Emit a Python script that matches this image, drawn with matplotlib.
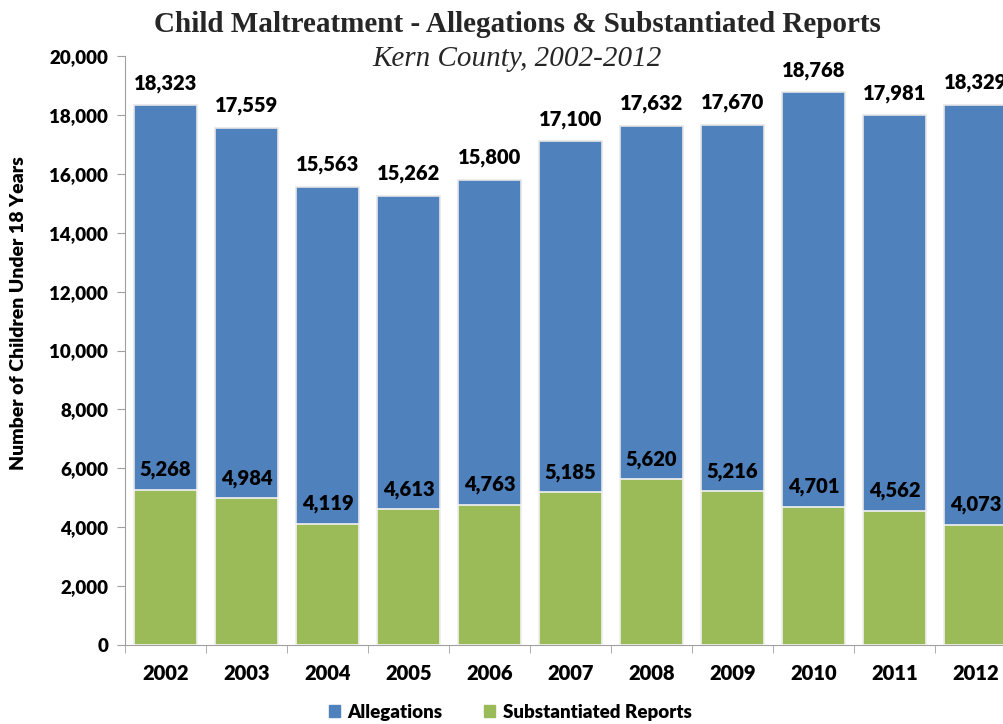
import matplotlib.pyplot as plt
import numpy as np

# data
years = ['2002', '2003', '2004', '2005', '2006', '2007', '2008', '2009', '2010', '2011', '2012']
allegations = [18323, 17559, 15563, 15262, 15800, 17100, 17632, 17670, 18768, 17981, 18329]
substantiated = [5268, 4984, 4119, 4613, 4763, 5185, 5620, 5216, 4701, 4562, 4073]

blue = '#4F81BD'
green = '#9BBB59'
sans = ['Lato', 'DejaVu Sans']
serif = ['Liberation Serif', 'DejaVu Serif']
wt = 'heavy'

fig = plt.figure(figsize=(10.04, 7.24), dpi=100)
ax = fig.add_axes([125 / 1004, 79 / 724, 891 / 1004, 589 / 724])

x = np.arange(len(years))
w = 0.79
ax.bar(x, allegations, width=w, color=blue, edgecolor='#E6E6E6', linewidth=1.2, zorder=2)
ax.bar(x, substantiated, width=w, color=green, edgecolor='#F2F2F2', linewidth=1.2, zorder=3)

for xi, v in zip(x, allegations):
    ax.annotate(f'{v:,}', (xi, v), xytext=(0, 16), textcoords='offset points',
                ha='center', va='center', fontsize=14.5, fontweight=wt, family=sans)
for xi, v in zip(x, substantiated):
    ax.annotate(f'{v:,}', (xi, v), xytext=(0, 14.5), textcoords='offset points',
                ha='center', va='center', fontsize=14.5, fontweight=wt, family=sans, zorder=5)

ax.set_xlim(-0.5, 10.5)
ax.set_ylim(0, 20000)
ax.set_yticks(range(0, 20001, 2000))
ax.set_yticklabels([f'{t:,}' for t in range(0, 20001, 2000)], fontsize=13.5,
                   fontweight=wt, family=sans)
ax.set_xticks(x)
ax.set_xticklabels(years, fontsize=14.5, fontweight=wt, family=sans)
ax.set_xticks(np.arange(-0.5, 10.6, 1), minor=True)
ax.tick_params(axis='x', which='major', length=0, pad=14)
ax.tick_params(axis='x', which='minor', length=6, color='#A0A0A0', direction='out')
ax.tick_params(axis='y', length=6, color='#A0A0A0', pad=6)

for s in ['top', 'right']:
    ax.spines[s].set_visible(False)
for s in ['left', 'bottom']:
    ax.spines[s].set_color('#A0A0A0')

ax.set_ylabel('Number of Children Under 18 Years', fontsize=14, fontweight=wt,
              family=sans, va='center')
ax.yaxis.set_label_coords(-0.12, 0.564)

fig.text(0.515, 0.966, 'Child Maltreatment - Allegations & Substantiated Reports',
         ha='center', va='center', fontsize=21, fontweight='bold', family=serif, color='#262626')
fig.text(0.515, 0.919, 'Kern County, 2002-2012', ha='center', va='center',
         fontsize=21, style='italic', family=serif, color='#262626')

handles = [plt.Rectangle((0, 0), 1, 1, color=blue), plt.Rectangle((0, 0), 1, 1, color=green)]
fig.legend(handles, ['Allegations', 'Substantiated Reports'], loc='center',
           bbox_to_anchor=(0.508, 0.016), ncol=2, frameon=False, handlelength=0.6,
           handleheight=0.6, handletextpad=0.4, columnspacing=2.2,
           prop={'family': sans, 'weight': wt, 'size': 13.5})

plt.savefig('out.png', dpi=100)
